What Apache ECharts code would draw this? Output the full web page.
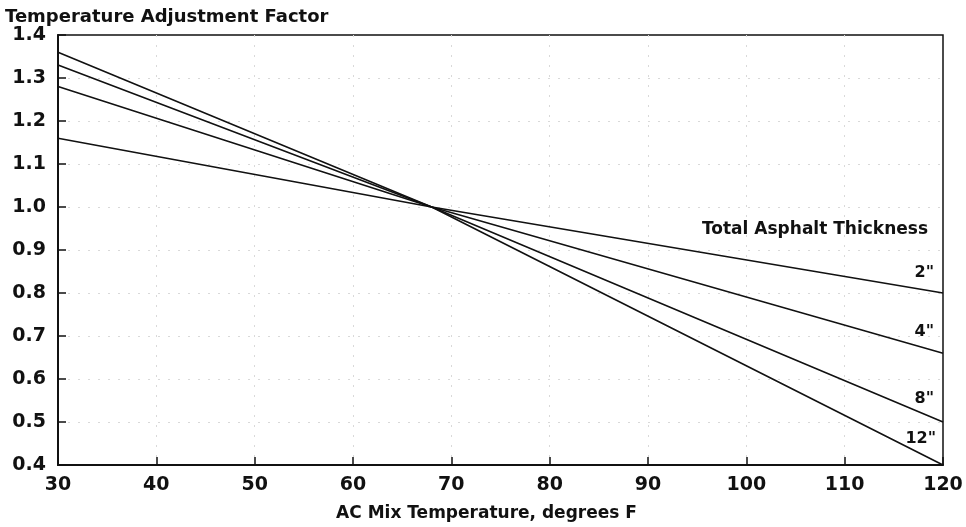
<!DOCTYPE html>
<html>
<head>
<meta charset="utf-8">
<script src="https://cdn.jsdelivr.net/npm/echarts@6/dist/echarts.min.js"></script>
<style>
  html, body { margin: 0; padding: 0; background: #fff; }
  #chart { width: 966px; height: 527px; }
</style>
</head>
<body>
<div id="chart"></div>
<script>
// lines break at the common point (68 F, 1.0)
var temps = [30, 68, 120];
var thick2 = [1.16, 1.0, 0.80];
var thick4 = [1.28, 1.0, 0.66];
var thick8 = [1.33, 1.0, 0.50];
var thick12 = [1.36, 1.0, 0.40];
var seriesNames = ['2"', '4"', '8"', '12"'];
var labelOffsets = [[-17, -20], [-17, -21], [-17, -23], [-15, -26]];

var chart = echarts.init(document.getElementById('chart'));
var font = 'DejaVu Sans';

function pairs(vals) {
  return temps.map(function (t, i) { return [t, vals[i]]; });
}

var allVals = [thick2, thick4, thick8, thick12];

var option = {
  backgroundColor: '#fff',
  animation: false,
  title: [{
    text: 'Temperature Adjustment Factor',
    left: 0,
    top: 3,
    textStyle: { color: '#111', fontFamily: font, fontSize: 18, fontWeight: 'bold' }
  }, {
    text: 'Total Asphalt Thickness',
    right: 33,
    top: 216,
    textStyle: { color: '#111', fontFamily: font, fontSize: 17, fontWeight: 'bold' }
  }],
  grid: {
    left: 58,
    right: 23,
    top: 35,
    bottom: 61,
    show: true,
    borderColor: '#111',
    borderWidth: 1.5
  },
  xAxis: {
    type: 'value',
    min: 30,
    max: 120,
    interval: 10,
    name: 'AC Mix Temperature, degrees F',
    nameLocation: 'middle',
    nameGap: 40,
    nameTextStyle: {
      color: '#111', fontFamily: font, fontSize: 17, fontWeight: 'bold',
      padding: [0, 28, 0, 0]
    },
    axisLine: { lineStyle: { color: '#111', width: 2 } },
    axisTick: { inside: true, length: 8, lineStyle: { color: '#111', width: 1.5 } },
    axisLabel: { color: '#111', fontFamily: font, fontSize: 19, fontWeight: 'bold', margin: 11 },
    splitLine: {
      show: true, showMinLine: false, showMaxLine: false,
      lineStyle: { color: '#d9d9d9', type: [2, 8], width: 1 }
    }
  },
  yAxis: {
    type: 'value',
    min: 0.4,
    max: 1.4,
    interval: 0.1,
    axisLine: { show: true, lineStyle: { color: '#111', width: 2 } },
    axisTick: { show: true, inside: true, length: 8, lineStyle: { color: '#111', width: 1.5 } },
    axisLabel: {
      color: '#111', fontFamily: font, fontSize: 19, fontWeight: 'bold', margin: 12,
      formatter: function (v) { return v.toFixed(1); }
    },
    splitLine: {
      show: true, showMinLine: false, showMaxLine: false,
      lineStyle: { color: '#d9d9d9', type: [2, 8], width: 1 }
    }
  },
  series: allVals.map(function (vals, i) {
    return {
      name: seriesNames[i],
      type: 'line',
      data: pairs(vals),
      showSymbol: false,
      symbol: 'none',
      lineStyle: { color: '#111', width: 1.6 },
      endLabel: {
        show: true,
        formatter: seriesNames[i],
        align: 'right',
        offset: labelOffsets[i],
        color: '#111',
        fontFamily: font,
        fontSize: 16,
        fontWeight: 'bold'
      }
    };
  })
};

chart.setOption(option);
window.onresize = function () {
  chart.resize();
};
</script>
</body>
</html>
